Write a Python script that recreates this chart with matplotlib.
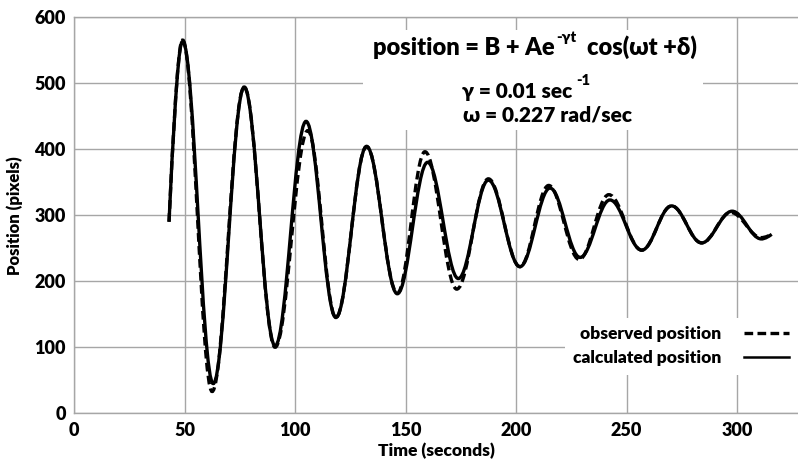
import matplotlib
matplotlib.use("Agg")
import matplotlib.pyplot as plt
from matplotlib.path import Path
from matplotlib.patches import PathPatch, Rectangle
from matplotlib.lines import Line2D

# turning points (maxima / minima), plus first and last sample
obs_t = [43, 49.2, 62.5, 77, 91, 105.8, 118.5, 132.4, 146.3, 158.8, 173.2, 187.5,
         201.8, 214.8, 228.6, 242, 256.9, 270.4, 284, 297.2, 311, 315.7]
obs_y = [290, 565, 33, 494, 100, 428, 145, 404, 182, 396, 188, 355,
         222, 345, 233, 331, 247, 314, 258, 304, 266, 271]

calc_t = [43, 49.2, 63, 77, 91, 105, 118.5, 132.4, 146.3, 160, 173.9, 187.5,
          201.8, 215.4, 229, 242.5, 256.9, 270.4, 284, 297.8, 311, 315.7]
calc_y = [290, 563, 45, 494, 102, 442, 145, 404, 181, 380, 204, 353,
          222, 341, 236, 323, 247, 314, 258, 306, 264, 271]

x_ticks = [0, 50, 100, 150, 200, 250, 300]
y_ticks = [0, 100, 200, 300, 400, 500, 600]

W = 'heavy'
plt.rcParams['font.family'] = ['Lato', 'DejaVu Sans']
plt.rcParams['font.weight'] = W


def wave_path(t, y):
    # smooth swing between turning points, drawn as bezier segments
    verts = [(t[0], y[0])]
    codes = [Path.MOVETO]
    n = len(t)
    for i in range(n - 1):
        dt = t[i + 1] - t[i]
        dy = y[i + 1] - y[i]
        if i == 0:
            c1, c2 = (0.61, 1.0), (0.88, 1.0)
        elif i == n - 2:
            c1, c2 = (0.12, 0.0), (0.39, 0.0)
        else:
            c1, c2 = (0.37, 0.0), (0.63, 1.0)
        verts += [(t[i] + c1[0] * dt, y[i] + c1[1] * dy),
                  (t[i] + c2[0] * dt, y[i] + c2[1] * dy),
                  (t[i + 1], y[i + 1])]
        codes += [Path.CURVE4] * 3
    return Path(verts, codes)


fig = plt.figure(figsize=(7.98, 4.62), dpi=100)
ax = fig.add_axes([74 / 798, 48.7 / 462, 724 / 798, 396.3 / 462])
ax.set_xlim(0, 327.6)
ax.set_ylim(0, 600)
ax.set_xticks(x_ticks)
ax.set_yticks(y_ticks)
ax.set_axisbelow(True)
ax.grid(True, color='#a6a6a6', lw=1.0)
for s in ['left', 'bottom', 'top']:
    ax.spines[s].set_color('#a6a6a6')
    ax.spines[s].set_linewidth(1.0)
ax.spines['right'].set_visible(False)
ax.tick_params(length=0, labelsize=13, pad=6)
for lab in ax.get_xticklabels() + ax.get_yticklabels():
    lab.set_fontweight(W)

lw = 2.4
dash = (0, (2.6, 1.3))
ax.add_patch(PathPatch(wave_path(obs_t, obs_y), fill=False, lw=lw, ls=dash,
                       color='black', capstyle='butt', zorder=3))
ax.add_patch(PathPatch(wave_path(calc_t, calc_y), fill=False, lw=lw,
                       color='black', zorder=4))

ax.set_xlabel("Time (seconds)", fontsize=12.5, fontweight=W, labelpad=3)
ax.set_ylabel("Position (pixels)", fontsize=12, fontweight=W, labelpad=8)

# white area behind the formula
ax.add_patch(Rectangle((0.399, 0.715), 0.47, 0.252, transform=ax.transAxes,
                       facecolor='white', edgecolor='none', zorder=2))

fs = 17
eq = ax.text(0.413, 0.904, "position = B + Ae", transform=ax.transAxes,
             fontsize=fs, fontweight=W, va='baseline', ha='left', zorder=5)
sup = ax.annotate("-γt", xy=(1, 0), xycoords=eq, xytext=(1, 12),
                  textcoords='offset points', fontsize=11, fontweight=W,
                  va='baseline', ha='left', zorder=5)
ax.annotate("  cos(ωt +δ)", xy=(1, 0), xycoords=(sup, eq), xytext=(0, 0),
            textcoords='offset points', fontsize=fs, fontweight=W,
            va='bottom', ha='left', zorder=5)

g = ax.text(0.5355, 0.795, "γ = 0.01 sec", transform=ax.transAxes,
            fontsize=15, fontweight=W, va='baseline', ha='left', zorder=5)
ax.annotate("-1", xy=(1, 0), xycoords=g, xytext=(3, 12),
            textcoords='offset points', fontsize=10.5, fontweight=W,
            va='baseline', ha='left', zorder=5)
ax.text(0.5375, 0.736, "ω = 0.227 rad/sec", transform=ax.transAxes,
        fontsize=15, fontweight=W, va='baseline', ha='left', zorder=5)

handles = [Line2D([], [], color='black', lw=lw, ls=dash),
           Line2D([], [], color='black', lw=1.8)]
leg = ax.legend(handles, ["observed position", "calculated position"],
                loc='lower right', bbox_to_anchor=(1.012, 0.075),
                markerfirst=False, frameon=True, fancybox=False,
                framealpha=1, edgecolor='none', facecolor='white',
                prop={'size': 12.5, 'weight': W},
                handlelength=2.6, handletextpad=1.3, labelspacing=0.45,
                borderpad=0.5)
leg.set_zorder(6)

fig.savefig("out.png", dpi=100)
